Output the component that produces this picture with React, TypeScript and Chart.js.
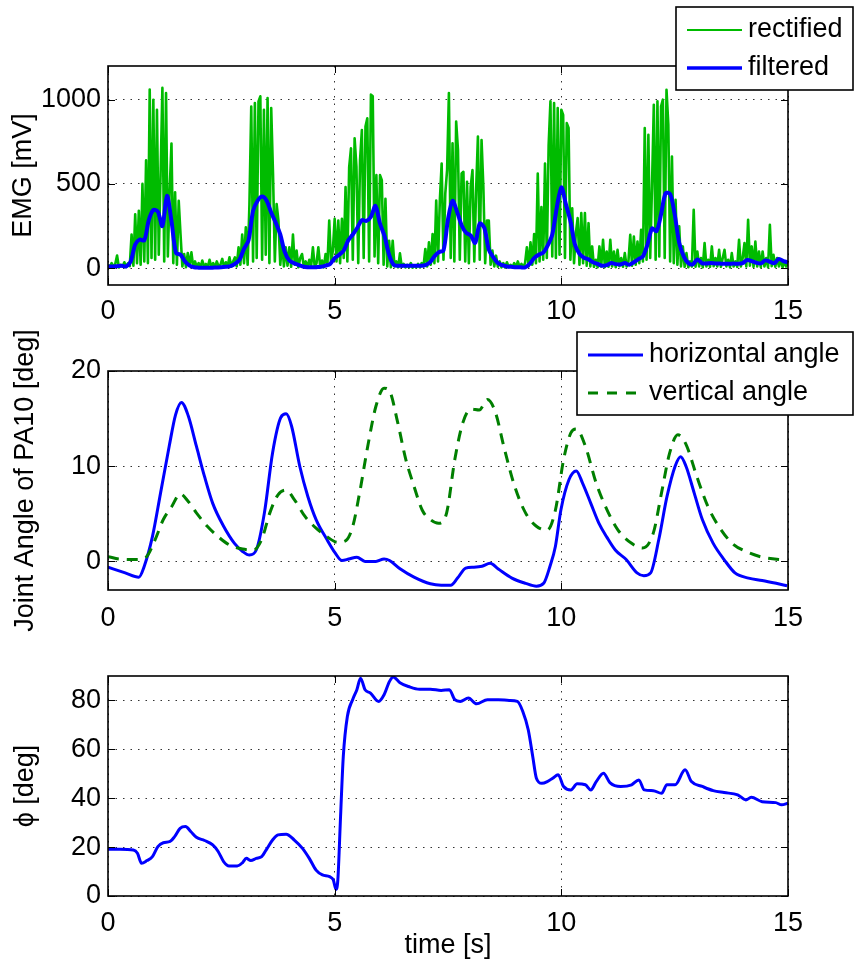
import React, { useEffect, useRef } from "react";
import { Chart, registerables } from "chart.js";
Chart.register(...registerables);

const FONT = "'Liberation Sans', Arial, Helvetica, sans-serif";
const FS = 27;

// ---------- shared x axis ----------
const xTicks = [0, 5, 10, 15];

// ---------- panel 1: EMG ----------
const emgTicks = [0, 500, 1000];
const rectifiedStep = 0.04; // s
const rectified = [
  20, 5, 30, 8, 25, 75, 4, 20, 10, 35, 6, 28, 12, 200, 15, 320, 30, 340, 20, 500, 40, 640, 30, 1060, 60,
  1000, 50, 940, 80, 560, 1070, 40, 1040, 70, 460, 740, 30, 450, 20, 400, 200, 10, 84, 5, 90, 15, 94, 8, 40, 5,
  30, 3, 45, 10, 25, 5, 50, 8, 30, 4, 40, 10, 20, 55, 6, 35, 12, 64, 8, 40, 64, 10, 124, 20, 200,
  30, 243, 20, 380, 960, 40, 980, 60, 990, 1020, 50, 940, 80, 1010, 30, 950, 560, 40, 380, 280, 20, 160, 10, 124, 15,
  124, 8, 200, 20, 104, 5, 60, 84, 10, 40, 6, 50, 10, 124, 8, 30, 124, 10, 45, 5, 84, 20, 283, 30, 104,
  293, 40, 283, 30, 293, 60, 482, 40, 600, 711, 50, 771, 602, 30, 641, 820, 60, 840, 890, 40, 1030, 1020, 70, 552, 30,
  552, 522, 20, 412, 10, 163, 5, 163, 10, 40, 5, 88, 8, 25, 4, 20, 6, 30, 3, 15, 5, 25, 4, 30, 10,
  114, 10, 153, 20, 203, 30, 402, 40, 402, 621, 50, 442, 582, 1040, 60, 741, 40, 870, 701, 50, 562, 572, 40, 512, 30,
  482, 582, 40, 462, 781, 50, 761, 482, 30, 283, 283, 20, 104, 10, 74, 8, 40, 5, 30, 4, 35, 6, 20, 3, 30,
  5, 40, 8, 25, 4, 30, 124, 10, 153, 20, 203, 30, 562, 40, 363, 50, 621, 60, 731, 990, 70, 980, 60, 950, 80,
  940, 910, 60, 861, 832, 50, 356, 30, 208, 297, 20, 327, 30, 327, 15, 267, 10, 129, 8, 50, 5, 129, 10, 168, 6,
  99, 8, 168, 10, 99, 5, 109, 12, 60, 8, 89, 10, 40, 198, 15, 188, 20, 158, 30, 228, 40, 832, 50, 792, 60,
  485, 970, 50, 990, 70, 960, 1000, 60, 1059, 851, 40, 663, 30, 406, 20, 248, 10, 129, 8, 89, 5, 40, 10, 347, 8,
  99, 10, 60, 5, 149, 10, 50, 8, 129, 12, 60, 10, 109, 8, 60, 109, 10, 50, 5, 89, 10, 40, 8, 168, 10,
  60, 149, 10, 287, 15, 129, 8, 158, 10, 99, 6, 99, 10, 60, 5, 257, 12, 79, 8, 60, 10, 50, 5, 40, 10,
  30,
];
const filteredStep = 0.1; // s
const filtered = [
  10, 10, 12, 14, 10, 40, 140, 170, 165, 285,
  345, 335, 250, 430, 280, 90, 80, 40, 15, 5,
  3, 2, 2, 3, 4, 5, 8, 12, 25, 50,
  115, 165, 340, 400, 425, 400, 330, 270, 200, 95,
  45, 30, 20, 10, 5, 5, 6, 8, 15, 25,
  60, 80, 105, 165, 200, 240, 285, 280, 305, 370,
  265, 190, 80, 20, 14, 14, 14, 14, 14, 14,
  18, 34, 70, 95, 105, 290, 400, 335, 255, 210,
  195, 150, 265, 240, 110, 64, 30, 18, 10, 8,
  6, 5, 4, 25, 60, 80, 92, 135, 200, 360,
  480, 380, 280, 140, 85, 62, 52, 35, 25, 14,
  18, 30, 24, 22, 30, 20, 35, 54, 70, 140,
  235, 220, 320, 445, 440, 320, 150, 70, 30, 22,
  52, 30, 28, 30, 28, 27, 26, 26, 27, 26,
  30, 48, 42, 32, 28, 46, 38, 30, 55, 42,
  34,
];

// ---------- panel 2: joint angles ----------
const angleTicks = [0, 10, 20];
const horizontalTimes = [
  0, 0.38, 0.68, 0.8, 0.98, 1.16, 1.35, 1.49, 1.62, 1.77, 1.95, 2.13, 2.31, 2.55, 2.79, 2.97, 3.12, 3.27, 3.45, 3.63,
  3.81, 3.93, 4.05, 4.23, 4.41, 4.59, 4.83, 5.01, 5.16, 5.31, 5.49, 5.67, 5.91, 6.09, 6.21, 6.45, 6.75, 7.11, 7.35, 7.56,
  7.71, 7.89, 8.07, 8.25, 8.43, 8.61, 8.91, 9.21, 9.45, 9.61, 9.75, 9.87, 9.99, 10.17, 10.33, 10.47, 10.65, 10.83, 11.01, 11.19,
  11.43, 11.67, 11.82, 11.97, 12.15, 12.33, 12.51, 12.63, 12.75, 12.93, 13.11, 13.35, 13.59, 13.83, 14.13, 14.43, 14.74, 14.98,
];
const horizontalAngle = [
  -0.6, -1.2, -1.65, -0.5, 2.6, 7.2, 12.1, 15.4, 16.7, 15.3, 12.1, 8.9, 6.1, 3.7, 1.9, 1.05, 0.67, 1.2, 5.1, 11.4,
  15.1, 15.5, 14.2, 10, 6.8, 4.4, 2.3, 0.9, 0.1, 0.25, 0.45, 0, 0, 0.25, 0.1, -0.8, -1.65, -2.35, -2.5, -2.5,
  -1.75, -0.7, -0.6, -0.5, -0.2, -0.8, -1.75, -2.3, -2.6, -2.3, -0.5, 1.6, 5.4, 8.6, 9.5, 8.2, 6.1, 4.0, 2.5, 1.2,
  0.2, -1.2, -1.5, -1.2, 2.3, 6.8, 10, 11, 10, 7.2, 4.4, 1.9, 0.2, -1.2, -1.75, -2.0, -2.3, -2.55,
];
const verticalTimes = [
  0, 0.26, 0.62, 0.84, 1.04, 1.22, 1.41, 1.59, 1.77, 1.95, 2.19, 2.43, 2.67, 2.97, 3.21, 3.39, 3.57, 3.75, 3.93, 4.11,
  4.35, 4.59, 4.83, 5.07, 5.25, 5.4, 5.55, 5.73, 5.91, 6.09, 6.21, 6.39, 6.57, 6.75, 6.93, 7.11, 7.29, 7.47, 7.65, 7.83,
  8.01, 8.19, 8.37, 8.55, 8.73, 8.97, 9.21, 9.45, 9.69, 9.87, 10.05, 10.21, 10.33, 10.53, 10.77, 11.01, 11.25, 11.55, 11.79, 12.03,
  12.21, 12.39, 12.57, 12.75, 12.99, 13.23, 13.47, 13.77, 14.07, 14.43, 14.98,
];
const verticalAngle = [
  0.5, 0.25, 0.2, 0.45, 2.3, 4.4, 5.8, 7.1, 6.3, 5.1, 3.7, 2.6, 1.75, 1.3, 1.2, 2.3, 5.1, 7.0, 7.5, 6.5,
  4.7, 3.5, 2.6, 2.0, 2.2, 3.7, 7.2, 12.1, 16.3, 18.2, 17.9, 14.6, 10.7, 7.9, 5.4, 4.4, 4.0, 5.1, 10.7, 14.6,
  16.0, 15.9, 17.0, 15.6, 12.1, 7.9, 5.1, 3.7, 3.3, 5.4, 10.7, 13.5, 13.9, 12.1, 8.2, 5.4, 3.3, 1.9, 1.4, 3.0,
  7.2, 11.4, 13.3, 12.3, 8.9, 5.8, 3.7, 1.9, 1.05, 0.45, 0.1,
];

// ---------- panel 3: phi ----------
const phiTicks = [0, 20, 40, 60, 80];
const phiTimes = [
  0, 0.26, 0.56, 0.65, 0.74, 0.86, 0.98, 1.1, 1.22, 1.37, 1.47, 1.59, 1.71, 1.83, 1.95, 2.13, 2.31, 2.43, 2.55, 2.67,
  2.85, 2.97, 3.05, 3.15, 3.27, 3.39, 3.51, 3.63, 3.75, 3.93, 4.11, 4.29, 4.44, 4.59, 4.73, 4.89, 4.97, 5.03, 5.07, 5.13,
  5.19, 5.28, 5.4, 5.49, 5.57, 5.67, 5.79, 5.97, 6.09, 6.21, 6.29, 6.45, 6.63, 6.87, 7.11, 7.35, 7.53, 7.65, 7.77, 7.95,
  8.13, 8.37, 8.61, 8.85, 9.03, 9.15, 9.27, 9.37, 9.45, 9.57, 9.69, 9.81, 9.93, 10.05, 10.21, 10.35, 10.53, 10.65, 10.77, 10.93,
  11.07, 11.31, 11.55, 11.71, 11.83, 12.03, 12.21, 12.33, 12.51, 12.73, 12.87, 13.11, 13.35, 13.59, 13.89, 14.07, 14.19, 14.43, 14.73, 14.86,
  15,
];
const phiValues = [
  19.1, 19.1, 18.8, 17.5, 13.4, 14.5, 16.1, 20.2, 21.8, 22.3, 24.3, 27.7, 28.4, 26.3, 24.0, 22.7, 20.9, 18.2, 14.1, 12.3,
  12.3, 13.7, 15.4, 14.5, 15.4, 16.1, 19.5, 22.9, 25.0, 25.3, 22.9, 19.5, 15.4, 10.6, 8.6, 7.9, 6.6, 2.7, 6.6, 32.5,
  57, 73.4, 80.5, 84.4, 89.1, 84.4, 83, 79.6, 82.3, 87.8, 89.6, 87.1, 85.7, 84.6, 84.6, 84.1, 84.4, 80.3, 79.6, 81.0,
  78.6, 80.3, 80.3, 80, 79.6, 75.5, 68, 57, 48.2, 46.1, 46.8, 48.2, 49.6, 44.8, 43.4, 45.9, 45.5, 43.4, 46.8, 50.2,
  46.4, 44.8, 45.5, 47.5, 43.4, 43.1, 42, 45.5, 45.5, 51.6, 46.8, 44.8, 43.1, 42.3, 41.4, 39.3, 40.4, 38.6, 38.2, 37.3,
  38,
];

// ---------- helpers ----------
const paired = (times: number[], values: number[]) => values.map((y, i) => ({ x: times[i], y }));
const sampled = (step: number, values: number[]) =>
  values.map((y, i) => ({ x: Math.round(i * step * 1000) / 1000, y }));

type LegendItem = { label: string; color: string; width: number; dash: number[] };
type LegendBox = { x: number; y: number; w: number; h: number; items: LegendItem[] };

function framePlugin(yTicks: number[], yTitle: string, yTitleX: number, legend?: LegendBox) {
  return {
    id: "frame",
    afterDatasetsDraw(chart: any) {
      const { ctx, chartArea: a, scales } = chart;
      ctx.save();
      ctx.strokeStyle = "#000";
      ctx.setLineDash([]);
      ctx.lineWidth = 1;
      ctx.beginPath();
      const tl = 7;
      for (const v of xTicks) {
        const p = Math.round(scales.x.getPixelForValue(v)) + 0.5;
        ctx.moveTo(p, a.bottom);
        ctx.lineTo(p, a.bottom - tl);
        ctx.moveTo(p, a.top);
        ctx.lineTo(p, a.top + tl);
      }
      for (const v of yTicks) {
        const p = Math.round(scales.y.getPixelForValue(v)) + 0.5;
        ctx.moveTo(a.left, p);
        ctx.lineTo(a.left + tl, p);
        ctx.moveTo(a.right, p);
        ctx.lineTo(a.right - tl, p);
      }
      ctx.stroke();
      ctx.lineWidth = 1.6;
      ctx.strokeRect(a.left, a.top, a.right - a.left, a.bottom - a.top);
      ctx.restore();
    },
    afterDraw(chart: any) {
      const { ctx, chartArea: a } = chart;
      ctx.save();
      ctx.fillStyle = "#000";
      ctx.font = `${FS}px ${FONT}`;
      ctx.textAlign = "center";
      ctx.textBaseline = "middle";
      ctx.translate(yTitleX, (a.top + a.bottom) / 2);
      ctx.rotate(-Math.PI / 2);
      ctx.fillText(yTitle, 0, 0);
      ctx.restore();
      if (!legend) return;
      ctx.save();
      ctx.fillStyle = "#fff";
      ctx.fillRect(legend.x, legend.y, legend.w, legend.h);
      ctx.strokeStyle = "#000";
      ctx.lineWidth = 1.6;
      ctx.strokeRect(legend.x, legend.y, legend.w, legend.h);
      legend.items.forEach((it, i) => {
        const yy = legend.y + 23 + i * 38;
        ctx.beginPath();
        ctx.strokeStyle = it.color;
        ctx.lineWidth = it.width;
        ctx.setLineDash(it.dash);
        ctx.moveTo(legend.x + 11, yy);
        ctx.lineTo(legend.x + 66, yy);
        ctx.stroke();
        ctx.setLineDash([]);
        ctx.fillStyle = "#000";
        ctx.font = `${FS}px ${FONT}`;
        ctx.textAlign = "left";
        ctx.textBaseline = "middle";
        ctx.fillText(it.label, legend.x + 72, yy);
      });
      ctx.restore();
    },
  };
}

type PanelCfg = {
  padTop: number;
  xHeight: number;
  xPad: number;
  yMin: number;
  yMax: number;
  yTicks: number[];
  xTitle?: string;
};

function makeOptions(cfg: PanelCfg): any {
  const tickFont = { family: FONT, size: FS };
  return {
    responsive: false,
    animation: false,
    devicePixelRatio: 1,
    layout: { padding: { top: cfg.padTop, right: 66, bottom: 0, left: 0 } },
    plugins: { legend: { display: false }, tooltip: { enabled: false } },
    elements: { point: { radius: 0 } },
    scales: {
      x: {
        type: "linear",
        min: 0,
        max: 15,
        afterBuildTicks: (s: any) => {
          s.ticks = xTicks.map((v) => ({ value: v }));
        },
        afterFit: (s: any) => {
          s.height = cfg.xHeight;
        },
        ticks: {
          font: tickFont,
          color: "#000",
          padding: cfg.xPad,
          maxRotation: 0,
          autoSkip: false,
          callback: (v: any) => String(v),
        },
        grid: { color: "#333", lineWidth: 1, drawTicks: false },
        border: { display: false, dash: [1.5, 6] },
        title: cfg.xTitle
          ? { display: true, text: cfg.xTitle, font: tickFont, color: "#000", padding: { top: 0, bottom: 2 } }
          : { display: false },
      },
      y: {
        type: "linear",
        min: cfg.yMin,
        max: cfg.yMax,
        afterBuildTicks: (s: any) => {
          s.ticks = cfg.yTicks.map((v) => ({ value: v }));
        },
        afterFit: (s: any) => {
          s.width = 108;
        },
        ticks: { font: tickFont, color: "#000", padding: 7, callback: (v: any) => String(v) },
        grid: { color: "#333", lineWidth: 1, drawTicks: false },
        border: { display: false, dash: [1.5, 6] },
      },
    },
  };
}

function Panel({ top, height, config }: { top: number; height: number; config: () => any }) {
  const ref = useRef<HTMLCanvasElement | null>(null);
  useEffect(() => {
    if (!ref.current) return;
    const chart = new Chart(ref.current, config());
    return () => chart.destroy();
  }, []);
  return (
    <canvas
      ref={ref}
      width={854}
      height={height}
      style={{ position: "absolute", left: 0, top, width: 854, height, display: "block" }}
    />
  );
}

const BLUE = "#0000ff";
const GREEN = "#00bb00";
const DKGREEN = "#007f00";

const emgConfig = () => ({
  type: "line",
  data: {
    datasets: [
      {
        label: "filtered",
        data: sampled(filteredStep, filtered),
        borderColor: BLUE,
        borderWidth: 4,
        tension: 0.3,
        order: 0,
        borderJoinStyle: "round",
      },
      {
        label: "rectified",
        data: sampled(rectifiedStep, rectified),
        borderColor: GREEN,
        borderWidth: 2.6,
        tension: 0,
        order: 1,
        borderJoinStyle: "round",
      },
    ],
  },
  options: makeOptions({ padTop: 66, xHeight: 35, xPad: 10, yMin: -100, yMax: 1200, yTicks: emgTicks }),
  plugins: [
    framePlugin(emgTicks, "EMG [mV]", 24, {
      x: 676,
      y: 7,
      w: 177,
      h: 83,
      items: [
        { label: "rectified", color: GREEN, width: 2, dash: [] },
        { label: "filtered", color: BLUE, width: 3.5, dash: [] },
      ],
    }),
  ],
});

const angleConfig = () => ({
  type: "line",
  data: {
    datasets: [
      {
        label: "vertical angle",
        data: paired(verticalTimes, verticalAngle),
        borderColor: DKGREEN,
        borderWidth: 3,
        borderDash: [11, 8],
        cubicInterpolationMode: "monotone",
        order: 0,
      },
      {
        label: "horizontal angle",
        data: paired(horizontalTimes, horizontalAngle),
        borderColor: BLUE,
        borderWidth: 3,
        cubicInterpolationMode: "monotone",
        order: 1,
      },
    ],
  },
  options: makeOptions({ padTop: 51, xHeight: 60, xPad: 12, yMin: -3, yMax: 20, yTicks: angleTicks }),
  plugins: [
    framePlugin(angleTicks, "Joint Angle of PA10 [deg]", 26, {
      x: 577,
      y: 12,
      w: 276,
      h: 83,
      items: [
        { label: "horizontal angle", color: BLUE, width: 3, dash: [] },
        { label: "vertical angle", color: DKGREEN, width: 3, dash: [10, 9] },
      ],
    }),
  ],
});

const phiConfig = () => ({
  type: "line",
  data: {
    datasets: [
      {
        label: "phi",
        data: paired(phiTimes, phiValues),
        borderColor: BLUE,
        borderWidth: 3,
        cubicInterpolationMode: "monotone",
      },
    ],
  },
  options: makeOptions({ padTop: 26, xHeight: 68, xPad: 11, yMin: 0, yMax: 90, yTicks: phiTicks, xTitle: "time [s]" }),
  plugins: [framePlugin(phiTicks, "ϕ [deg]", 26)],
});

export default function App() {
  return (
    <div style={{ position: "absolute", left: 0, top: 0, width: 854, height: 964, background: "#fff" }}>
      <Panel top={0} height={320} config={emgConfig} />
      <Panel top={320} height={330} config={angleConfig} />
      <Panel top={650} height={314} config={phiConfig} />
    </div>
  );
}
